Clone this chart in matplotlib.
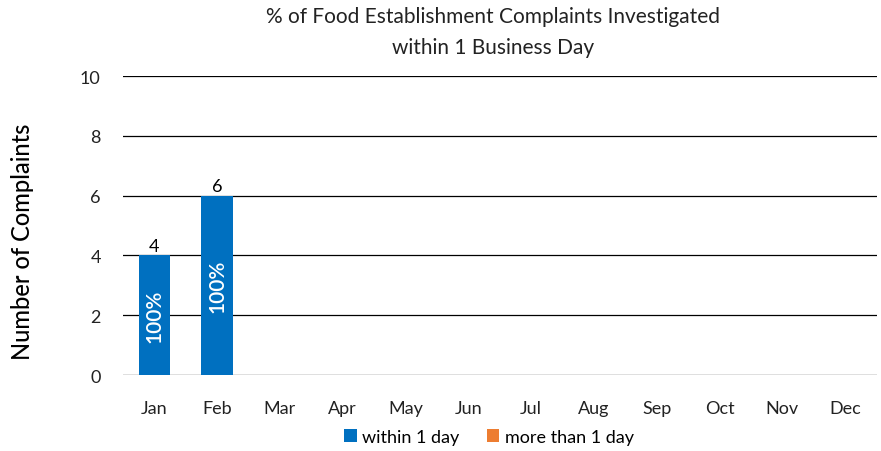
import numpy as np
import matplotlib.pyplot as plt

plt.rcParams['font.family'] = ['Lato', 'DejaVu Sans']

months = ['Jan', 'Feb', 'Mar', 'Apr', 'May', 'Jun', 'Jul', 'Aug', 'Sep', 'Oct', 'Nov', 'Dec']
within = [4, 6, 0, 0, 0, 0, 0, 0, 0, 0, 0, 0]
more = [0, 0, 0, 0, 0, 0, 0, 0, 0, 0, 0, 0]
totals = [4, 6, None, None, None, None, None, None, None, None, None, None]
pct = ['100%', '100%', '', '', '', '', '', '', '', '', '', '']

fig = plt.figure(figsize=(8.81, 4.52), dpi=100)
ax = fig.add_axes([0.1396, 0.168, 0.8554, 0.6616])

x = np.arange(len(months))
b1 = ax.bar(x, within, width=0.5, color='#0070C0', label='within 1 day', zorder=3)
b2 = ax.bar(x, more, width=0.5, bottom=within, color='#ED7D31', label='more than 1 day', zorder=3)

for i in range(len(months)):
    if totals[i]:
        ax.text(x[i], totals[i] + 0.05, str(totals[i]), ha='center', va='bottom', fontsize=13)
    if pct[i]:
        ax.text(x[i], within[i] / 2, pct[i], ha='center', va='center', rotation=90,
                color='white', fontsize=15, fontweight='semibold')

ax.set_xlim(-0.5, 11.5)
ax.set_ylim(0, 10)
ax.set_yticks(range(0, 11, 2))
ax.set_xticks(x)
ax.set_xticklabels(months)
ax.tick_params(axis='both', length=0, labelsize=13, colors='#222222')
ax.tick_params(axis='y', pad=16)
ax.tick_params(axis='x', pad=18)
ax.grid(axis='y', color='black', linewidth=0.9, zorder=0)
for s in ax.spines.values():
    s.set_visible(False)

ax.set_ylabel('Number of Complaints', fontsize=17, fontweight='medium')
ax.yaxis.set_label_coords(-0.118, 0.45)
fig.suptitle('% of Food Establishment Complaints Investigated\nwithin 1 Business Day',
             x=0.56, y=0.985, fontsize=15, color='#222222', linespacing=1.7)

fig.legend(handles=[b1, b2], loc='lower center', bbox_to_anchor=(0.555, -0.022), ncol=2,
           frameon=False, fontsize=13, handlelength=0.7, handleheight=0.7,
           handletextpad=0.3, columnspacing=1.5)

fig.savefig('out.png', dpi=100)
